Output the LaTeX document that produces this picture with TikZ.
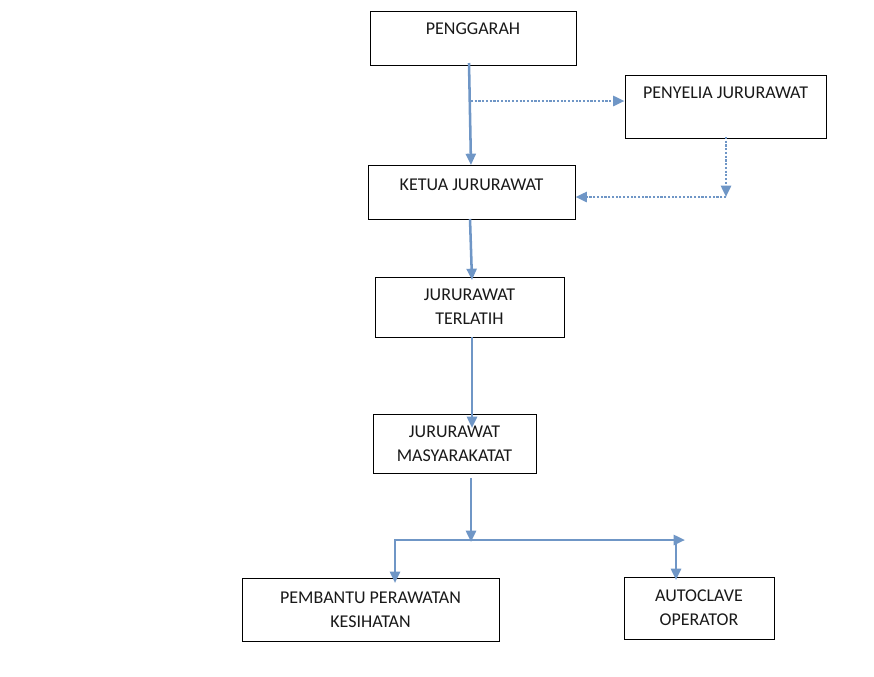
\documentclass[tikz,border=0pt]{standalone}
\usepackage{fontspec}
\setmainfont{Carlito}
\usetikzlibrary{arrows.meta,calc}
\definecolor{arrowblue}{RGB}{111,150,198}
\tikzset{
  box/.style={draw=black, line width=0.75pt, fill=white, inner sep=0pt, align=center,
    font=\fontsize{13.5pt}{18pt}\selectfont, text=black!90},
  link/.style={draw=arrowblue, line width=1.9pt, -{Triangle[length=8.5pt,width=7.5pt]}},
  dotlink/.style={draw=arrowblue, line width=1.9pt, dash pattern=on 1.6pt off 1.2pt,
    -{Triangle[length=8.5pt,width=7.5pt]}}
}
\begin{document}
\begin{tikzpicture}[x=0.75pt,y=-0.75pt]
\useasboundingbox (0,0) rectangle (874,676);
% boxes
\node[box, minimum width=206*0.75pt, minimum height=54*0.75pt] (pg) at (473,38) {PENGGARAH\\[-9pt]\strut};
\node[box, minimum width=201*0.75pt, minimum height=63*0.75pt] (ps) at (725.5,106.5) {PENYELIA JURURAWAT\\[-3pt]\strut};
\node[box, minimum width=207*0.75pt, minimum height=54*0.75pt] (kj) at (471.5,192) {KETUA JURURAWAT\\[-13pt]\strut};
\node[box, minimum width=189*0.75pt, minimum height=60*0.75pt] (jt) at (469.5,307) {JURURAWAT\\TERLATIH};
\node[box, minimum width=163*0.75pt, minimum height=59*0.75pt] (jm) at (454.5,443.5) {JURURAWAT\\MASYARAKATAT};
\node[box, minimum width=257*0.75pt, minimum height=63*0.75pt] (pk) at (370.5,609.5) {PEMBANTU PERAWATAN\\KESIHATAN};
\node[box, minimum width=150*0.75pt, minimum height=62*0.75pt] (ao) at (699,608) {AUTOCLAVE\\OPERATOR};
% connector points
\coordinate (p1) at (469,63);
\coordinate (k1) at (471,165);
\coordinate (d1) at (471,101);
\coordinate (d2) at (726,137);
\coordinate (c1) at (726,197);
\coordinate (k2) at (470,219);
\coordinate (t1) at (472,280);
\coordinate (t2) at (472,337);
\coordinate (m1) at (472,428);
\coordinate (m2) at (471,478);
\coordinate (j1) at (471,542);
\coordinate (hL) at (395,540);
\coordinate (hR) at (685,540);
\coordinate (b1) at (395,583);
\coordinate (a0) at (676,540);
\coordinate (a1) at (676,580);
% connectors
\draw[link] (p1) -- (k1);
\draw[dotlink] (d1) -- (d1 -| ps.west);
\draw[dotlink] (d2) -- (c1);
\draw[dotlink] (c1) -- (c1 -| kj.east);
\draw[link] (k2) -- (t1);
\draw[link] (t2) -- (m1);
\draw[link] (m2) -- (j1);
\draw[link] (hL) -- (hR);
\draw[link] ([yshift=0.7pt]hL) -- (b1);
\draw[link] (a0) -- (a1);
\end{tikzpicture}
\end{document}
